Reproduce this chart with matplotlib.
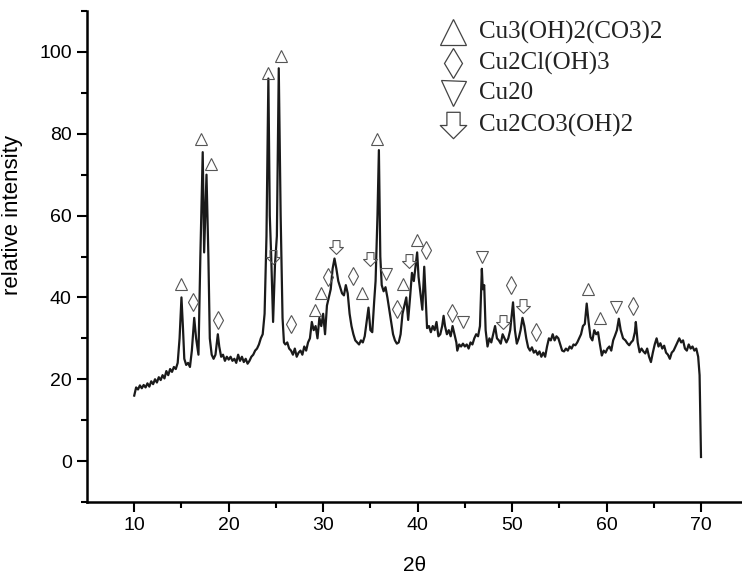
import numpy as np
import matplotlib
matplotlib.use("Agg")
import matplotlib.pyplot as plt
from matplotlib.path import Path

# XRD pattern (2theta, relative intensity)
two_theta = [10.0, 10.2, 10.4, 10.6, 10.8, 11.0, 11.2, 11.4, 11.6, 11.8, 12.0, 12.2, 12.4, 12.6, 12.8,
             13.0, 13.2, 13.4, 13.6, 13.8, 14.0, 14.2, 14.4, 14.6, 14.8, 15.0, 15.15, 15.3, 15.5, 15.7,
             15.9, 16.1, 16.35, 16.55, 16.8, 17.0, 17.25, 17.4, 17.65, 17.85, 18.0, 18.2, 18.4, 18.6,
             18.85, 19.0, 19.2, 19.4, 19.6, 19.8, 20.0, 20.2, 20.4, 20.6, 20.8, 21.0, 21.2, 21.4, 21.6,
             21.8, 22.0, 22.2, 22.4, 22.6, 22.8, 23.0, 23.2, 23.4, 23.6, 23.8, 24.0, 24.2, 24.35, 24.5,
             24.7, 24.9, 25.1, 25.3, 25.5, 25.7, 25.85, 26.0, 26.2, 26.4, 26.6, 26.8, 27.0, 27.2, 27.4,
             27.6, 27.8, 28.0, 28.2, 28.4, 28.6, 28.8, 29.0, 29.2, 29.4, 29.6, 29.8, 30.0, 30.2, 30.4,
             30.6, 30.8, 31.0, 31.2, 31.4, 31.6, 31.8, 32.0, 32.2, 32.4, 32.6, 32.8, 33.0, 33.2, 33.4,
             33.6, 33.8, 34.0, 34.2, 34.4, 34.6, 34.8, 35.0, 35.2, 35.4, 35.55, 35.75, 35.9, 36.05, 36.2,
             36.4, 36.6, 36.8, 37.0, 37.2, 37.4, 37.6, 37.8, 38.0, 38.2, 38.4, 38.6, 38.8, 39.0, 39.2,
             39.4, 39.6, 39.8, 39.95, 40.1, 40.3, 40.5, 40.7, 40.85, 41.0, 41.2, 41.4, 41.6, 41.8, 42.0,
             42.2, 42.4, 42.6, 42.75, 42.9, 43.1, 43.3, 43.5, 43.7, 43.9, 44.1, 44.2, 44.4, 44.6, 44.8,
             45.0, 45.2, 45.4, 45.6, 45.8, 46.0, 46.2, 46.4, 46.6, 46.8, 46.9, 47.05, 47.2, 47.4, 47.6,
             47.8, 48.0, 48.2, 48.4, 48.6, 48.8, 49.0, 49.2, 49.4, 49.6, 49.8, 50.1, 50.3, 50.5, 50.7,
             50.9, 51.1, 51.3, 51.5, 51.7, 51.9, 52.1, 52.3, 52.5, 52.7, 52.9, 53.1, 53.3, 53.5, 53.7,
             53.9, 54.1, 54.3, 54.5, 54.7, 54.9, 55.1, 55.3, 55.5, 55.7, 55.9, 56.1, 56.3, 56.5, 56.7,
             56.9, 57.1, 57.3, 57.5, 57.7, 57.9, 58.1, 58.3, 58.5, 58.7, 58.9, 59.1, 59.3, 59.5, 59.7,
             59.9, 60.1, 60.3, 60.5, 60.7, 60.9, 61.1, 61.3, 61.5, 61.75, 62.0, 62.2, 62.4, 62.6, 62.8,
             63.0, 63.1, 63.3, 63.5, 63.7, 63.9, 64.1, 64.3, 64.5, 64.7, 64.9, 65.1, 65.3, 65.5, 65.7,
             65.9, 66.1, 66.3, 66.5, 66.7, 66.9, 67.1, 67.3, 67.5, 67.7, 67.9, 68.1, 68.3, 68.5, 68.7,
             68.9, 69.1, 69.3, 69.5, 69.7, 69.85, 69.95, 70.0]
intensity = [16, 18, 17.5, 18.5, 17.8, 18.6, 18, 19, 18.2, 19.5, 18.8, 20, 19.2, 20.5, 19.8,
             21, 20.2, 22, 21, 22.5, 21.8, 23, 22.5, 24, 30, 40, 33, 25, 23.5, 24,
             23, 27, 35, 30, 26, 50, 75.5, 51, 70, 50, 30, 26, 25, 26,
             31, 28, 25.5, 26, 24.5, 25.5, 24.8, 25.5, 24.5, 25, 24, 26, 24.5, 25.5, 24.2,
             25, 23.8, 24.5, 25.5, 26, 27, 27.5, 28.5, 30, 31, 36, 55, 93.5, 60, 50,
             34, 48, 55, 96, 60, 35, 29, 28.5, 29, 27.5, 27, 26, 27.5, 25.5, 26.5,
             27, 26, 28, 27, 29, 30, 34, 32, 33, 30, 35, 33, 36, 31, 38,
             40, 42, 47, 49.5, 47, 44, 42.5, 41, 40.5, 43, 41, 36, 33, 31, 29.5,
             29, 28.5, 29.5, 29, 30.5, 34, 37.5, 32, 31.5, 39, 44, 60, 76, 50, 43,
             41.5, 42.5, 40, 37, 34, 31, 29.5, 28.7, 29, 31, 36, 38, 40, 34.5, 40,
             46, 44, 48, 51, 45, 41, 37, 47.5, 40, 32.5, 33, 31.5, 33, 32, 34,
             30.5, 31, 33, 35.5, 33, 31, 32, 30.5, 33, 31, 29, 27, 28.5, 28, 28.7,
             28, 28.5, 27.5, 29, 28.5, 30, 31, 30.5, 33, 47, 42, 43, 32, 28, 30,
             29, 31, 33, 30, 29.5, 28.7, 31, 30, 29, 30, 32, 38.8, 32, 28.7, 30,
             32, 35, 33, 30, 27.8, 27, 27.8, 26.5, 27, 26, 26.8, 25.5, 26.5, 25.5, 28,
             30, 29.5, 31, 29.5, 30.5, 30, 28.5, 27, 26.8, 27.5, 27, 28, 27.5, 28.5, 28.3,
             29, 30, 31, 33, 33.5, 38.5, 34, 30.3, 29.5, 32, 31, 31.5, 28.5, 25.8, 27,
             26.5, 27.5, 28, 27, 29.5, 30.7, 32, 34.8, 32, 30, 29.5, 28.8, 28.3, 29, 29.5,
             31.5, 34, 29, 26.6, 27.5, 26.8, 26.3, 27.5, 25.5, 24.2, 26.5, 28.5, 30, 28, 28.8,
             27.5, 28.2, 26.5, 26, 25, 26.5, 27, 28, 29, 30, 29, 29.5, 27.5, 27, 28.5,
             27.5, 28, 27, 27.5, 25.5, 21, 8, 1]

# phase markers (2theta, height of the marker)
malachite_x = [15.0, 17.05, 18.15, 24.2, 25.55, 29.15, 29.8, 34.1, 35.75, 38.4, 39.95, 58.0, 59.3]
malachite_y = [43.4, 78.8, 72.7, 94.9, 99.0, 37.0, 41.0, 41.0, 78.8, 43.4, 54.0, 42.0, 35.0]
atacamite_x = [16.25, 18.9, 26.6, 30.5, 33.2, 37.8, 40.9, 43.65, 49.9, 52.5, 62.8]
atacamite_y = [38.8, 34.6, 33.6, 45.0, 45.3, 37.2, 51.7, 36.3, 43.0, 31.5, 38.0]
cuprite_x = [36.7, 44.8, 46.8, 61.0]
cuprite_y = [45.8, 34.0, 50.0, 37.6]
carbonate_x = [24.7, 31.4, 35.0, 39.1, 49.05, 51.2]
carbonate_y = [49.8, 52.3, 49.5, 49.0, 34.0, 38.0]

labels = ["Cu3(OH)2(CO3)2", "Cu2Cl(OH)3", "Cu20", "Cu2CO3(OH)2"]

# hollow block arrow pointing down
arrow_marker = Path([(-0.3, 0.6), (0.3, 0.6), (0.3, 0.0), (0.6, 0.0), (0.0, -0.6),
                     (-0.6, 0.0), (-0.3, 0.0), (-0.3, 0.6)],
                    [Path.MOVETO] + [Path.LINETO] * 6 + [Path.CLOSEPOLY])

plt.rcParams['font.family'] = 'Liberation Sans'
fig = plt.figure(figsize=(7.42, 5.75), dpi=100)
ax = fig.add_axes([87 / 742, 1 - 502 / 575, 1 - 87 / 742, (502 - 11) / 575])

ax.plot(two_theta, intensity, color='#1a1a1a', lw=1.6)

mk = dict(ls='none', mfc='none', mec='#555555', mew=0.8)
ax.plot(malachite_x, malachite_y, marker='^', ms=9, **mk)
ax.plot(atacamite_x, atacamite_y, marker='d', ms=9, **mk)
ax.plot(cuprite_x, cuprite_y, marker='v', ms=9, **mk)
ax.plot(carbonate_x, carbonate_y, marker=arrow_marker, ms=10, **mk)

ax.set_xlim(5, 74.34)
ax.set_ylim(-10, 110)
ax.set_xticks([10, 20, 30, 40, 50, 60, 70])
ax.set_xticks([15, 25, 35, 45, 55, 65], minor=True)
ax.set_yticks([0, 20, 40, 60, 80, 100])
ax.set_yticks([-10, 10, 30, 50, 70, 90, 110], minor=True)
ax.spines['top'].set_visible(False)
ax.spines['right'].set_visible(False)
for s in ['left', 'bottom']:
    ax.spines[s].set_linewidth(1.8)
ax.tick_params(which='major', direction='out', length=7, width=1.5, labelsize=14, pad=4)
ax.tick_params(which='minor', direction='out', length=4, width=1.5)

ax.set_xlabel('2θ', fontsize=15)
ax.set_ylabel('relative intensity', fontsize=16)
ax.xaxis.set_label_coords(0.5, -0.11)
ax.yaxis.set_label_coords(-0.097, 0.585)

# legend, drawn by hand in figure pixels
leg_rows = [32, 63, 93, 125]
leg_markers = [('^', 19), ('d', 15), ('v', 18), (arrow_marker, 19)]
for row, (m, size), lab in zip(leg_rows, leg_markers, labels):
    ax.plot([453 / 742], [1 - row / 575], transform=fig.transFigure, clip_on=False,
            marker=m, ms=size, ls='none', mfc='none', mec='#444444', mew=0.9)
    fig.text(479 / 742, 1 - row / 575, lab, fontsize=18, family='Liberation Serif',
             va='center', ha='left', color='#222222')

fig.savefig('out.png', dpi=100)
